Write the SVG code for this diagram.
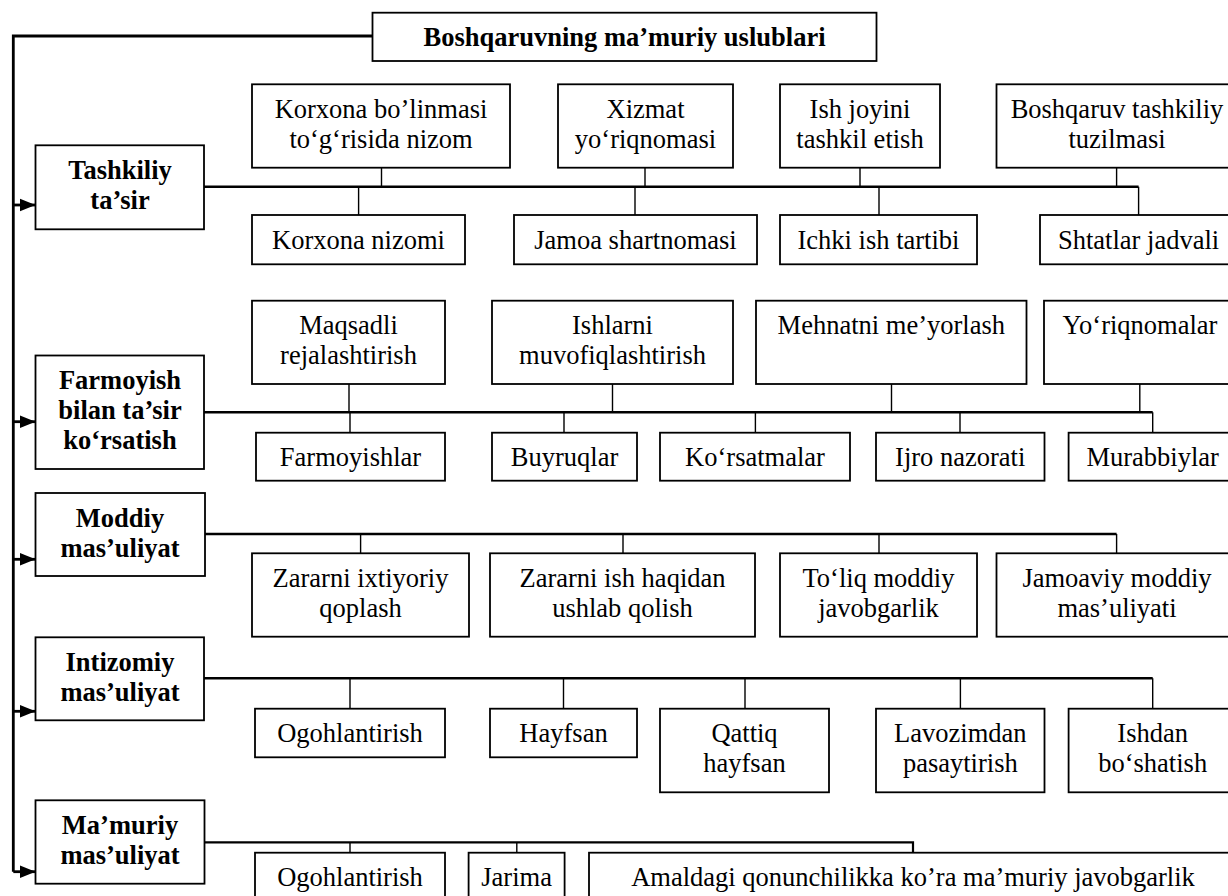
<svg xmlns="http://www.w3.org/2000/svg" width="1228" height="896" viewBox="0 0 1228 896">
  <style>
    .box { fill: #fff; stroke: #000; stroke-width: 1.8; }
    .t { font-family: "Liberation Serif", "Times New Roman", serif; font-size: 26.5px; text-anchor: middle; fill: #000; }
    .b { font-weight: bold; }
    .trunk { fill: none; stroke: #000; stroke-width: 2.8; }
    .bus { fill: none; stroke: #000; stroke-width: 2.6; }
    .stub { fill: none; stroke: #000; stroke-width: 1.4; }
  </style>
  <defs>
    <marker id="head" markerUnits="userSpaceOnUse" markerWidth="17" markerHeight="16" refX="16" refY="8" orient="auto">
      <path d="M0,1.5 L16,8 L0,14.5 Z" fill="#000"/>
    </marker>
  </defs>
  <rect width="1228" height="896" fill="#fff"/>

  <!-- connectors -->
  <g id="connectors">
    <!-- main trunk from the title box down the left side -->
    <path class="trunk" d="M372.5 36 H13.3 V871.7"/>
    <path class="trunk" d="M13.3 205 H35.5" marker-end="url(#head)"/>
    <path class="trunk" d="M13.3 421.7 H35.5" marker-end="url(#head)"/>
    <path class="trunk" d="M13.3 559.3 H35.5" marker-end="url(#head)"/>
    <path class="trunk" d="M13.3 711.3 H35.5" marker-end="url(#head)"/>
    <path class="trunk" d="M13.3 871.7 H35.5" marker-end="url(#head)"/>

    <!-- row 1 -->
    <path class="bus" d="M204 186.7 H1138.6"/>
    <path class="stub" d="M381.5 167.7 V186.7 M645 167.7 V186.7 M860 167.7 V186.7 M1116.6 167.7 V186.7"/>
    <path class="stub" d="M358.6 186.7 V215 M635 186.7 V215 M879 186.7 V215 M1138.6 186.7 V215"/>

    <!-- row 2 -->
    <path class="bus" d="M204 412.3 H1152.7"/>
    <path class="stub" d="M349 384 V412.3 M612.5 384 V412.3 M891.5 384 V412.3 M1139.8 384 V412.3"/>
    <path class="stub" d="M350 412.3 V432.7 M564 412.3 V432.7 M755.4 412.3 V432.7 M960 412.3 V432.7 M1152.7 412.3 V432.7"/>

    <!-- row 3 -->
    <path class="bus" d="M205 534 H1116.6"/>
    <path class="stub" d="M360.6 534 V553.3 M623 534 V553.3 M879 534 V553.3 M1116.6 534 V553.3"/>

    <!-- row 4 -->
    <path class="bus" d="M204 678.3 H1152.7"/>
    <path class="stub" d="M350 678.3 V708.7 M563.5 678.3 V708.7 M745 678.3 V708.7 M960.4 678.3 V708.7 M1152.7 678.3 V708.7"/>

    <!-- row 5 -->
    <path class="bus" style="stroke-width:2.2" d="M204.5 842.3 H913 V852.7"/>
    <path class="stub" d="M350 842.3 V852.7 M516.8 842.3 V852.7"/>
  </g>

  <!-- title -->
  <g id="title">
    <rect class="box" x="372.5" y="12.7" width="504" height="48.3"/>
    <text class="t b" x="624.5" y="46">Boshqaruvning ma’muriy uslublari</text>
  </g>

  <!-- left column categories -->
  <g id="tashkiliy">
    <rect class="box" x="35.5" y="145.3" width="168.5" height="84"/>
    <text class="t b" x="120" y="179"><tspan x="120">Tashkiliy</tspan><tspan x="120" dy="30">ta’sir</tspan></text>
  </g>
  <g id="farmoyish">
    <rect class="box" x="35.5" y="355.5" width="168.5" height="113.5"/>
    <text class="t b" x="120" y="389"><tspan x="120">Farmoyish</tspan><tspan x="120" dy="30">bilan ta’sir</tspan><tspan x="120" dy="30">ko‘rsatish</tspan></text>
  </g>
  <g id="moddiy">
    <rect class="box" x="35.5" y="493" width="169.5" height="83"/>
    <text class="t b" x="120" y="526.5"><tspan x="120">Moddiy</tspan><tspan x="120" dy="30">mas’uliyat</tspan></text>
  </g>
  <g id="intizomiy">
    <rect class="box" x="35.5" y="637.3" width="168.5" height="83"/>
    <text class="t b" x="120" y="670.8"><tspan x="120">Intizomiy</tspan><tspan x="120" dy="30">mas’uliyat</tspan></text>
  </g>
  <g id="mamuriy">
    <rect class="box" x="35.5" y="800.3" width="169" height="83.4"/>
    <text class="t b" x="120" y="833.7"><tspan x="120">Ma’muriy</tspan><tspan x="120" dy="30">mas’uliyat</tspan></text>
  </g>

  <!-- row 1: upper -->
  <g id="korxona-bolinmasi">
    <rect class="box" x="252" y="84.3" width="258" height="83.4"/>
    <text class="t" x="381" y="117.8"><tspan x="381">Korxona bo’linmasi</tspan><tspan x="381" dy="30">to‘g‘risida nizom</tspan></text>
  </g>
  <g id="xizmat">
    <rect class="box" x="558" y="84.3" width="175" height="83.4"/>
    <text class="t" x="645.5" y="117.8"><tspan x="645.5">Xizmat</tspan><tspan x="645.5" dy="30">yo‘riqnomasi</tspan></text>
  </g>
  <g id="ish-joyini">
    <rect class="box" x="780" y="84.3" width="160" height="83.4"/>
    <text class="t" x="860" y="117.8"><tspan x="860">Ish joyini</tspan><tspan x="860" dy="30">tashkil etish</tspan></text>
  </g>
  <g id="boshqaruv-tuzilmasi">
    <rect class="box" x="996.5" y="84.3" width="241" height="83.4"/>
    <text class="t" x="1117" y="117.8"><tspan x="1117">Boshqaruv tashkiliy</tspan><tspan x="1117" dy="30">tuzilmasi</tspan></text>
  </g>

  <!-- row 1: lower -->
  <g id="korxona-nizomi">
    <rect class="box" x="252" y="215" width="213" height="49.3"/>
    <text class="t" x="358.5" y="248.5">Korxona nizomi</text>
  </g>
  <g id="jamoa-shartnomasi">
    <rect class="box" x="514" y="215" width="243" height="49.3"/>
    <text class="t" x="635.5" y="248.5">Jamoa shartnomasi</text>
  </g>
  <g id="ichki-tartib">
    <rect class="box" x="780" y="215" width="197" height="49.3"/>
    <text class="t" x="878.5" y="248.5">Ichki ish tartibi</text>
  </g>
  <g id="shtatlar">
    <rect class="box" x="1040" y="215" width="197.5" height="49.3"/>
    <text class="t" x="1138.6" y="248.5">Shtatlar jadvali</text>
  </g>

  <!-- row 2: upper -->
  <g id="maqsadli">
    <rect class="box" x="252" y="300.7" width="193" height="83.3"/>
    <text class="t" x="348.5" y="334.2"><tspan x="348.5">Maqsadli</tspan><tspan x="348.5" dy="30">rejalashtirish</tspan></text>
  </g>
  <g id="ishlarni">
    <rect class="box" x="492" y="300.7" width="241" height="83.3"/>
    <text class="t" x="612.5" y="334.2"><tspan x="612.5">Ishlarni</tspan><tspan x="612.5" dy="30">muvofiqlashtirish</tspan></text>
  </g>
  <g id="mehnatni">
    <rect class="box" x="756" y="300.7" width="270.5" height="83.3"/>
    <text class="t" x="891.3" y="334.2">Mehnatni me’yorlash</text>
  </g>
  <g id="yoriqnomalar">
    <rect class="box" x="1044" y="300.7" width="192" height="83.3"/>
    <text class="t" x="1140" y="334.2">Yo‘riqnomalar</text>
  </g>

  <!-- row 2: lower -->
  <g id="farmoyishlar">
    <rect class="box" x="256" y="432.7" width="189" height="48"/>
    <text class="t" x="350.5" y="466.2">Farmoyishlar</text>
  </g>
  <g id="buyruqlar">
    <rect class="box" x="492" y="432.7" width="145" height="48"/>
    <text class="t" x="564.5" y="466.2">Buyruqlar</text>
  </g>
  <g id="korsatmalar">
    <rect class="box" x="660" y="432.7" width="190" height="48"/>
    <text class="t" x="755" y="466.2">Ko‘rsatmalar</text>
  </g>
  <g id="ijro-nazorati">
    <rect class="box" x="876" y="432.7" width="168.5" height="48"/>
    <text class="t" x="960.2" y="466.2">Ijro nazorati</text>
  </g>
  <g id="murabbiylar">
    <rect class="box" x="1068.6" y="432.7" width="168.4" height="48"/>
    <text class="t" x="1152.7" y="466.2">Murabbiylar</text>
  </g>

  <!-- row 3 -->
  <g id="ixtiyoriy-qoplash">
    <rect class="box" x="252" y="553.3" width="217" height="83.4"/>
    <text class="t" x="360.5" y="586.8"><tspan x="360.5">Zararni ixtiyoriy</tspan><tspan x="360.5" dy="30">qoplash</tspan></text>
  </g>
  <g id="ish-haqidan">
    <rect class="box" x="490" y="553.3" width="265" height="83.4"/>
    <text class="t" x="622.5" y="586.8"><tspan x="622.5">Zararni ish haqidan</tspan><tspan x="622.5" dy="30">ushlab qolish</tspan></text>
  </g>
  <g id="toliq-moddiy">
    <rect class="box" x="780" y="553.3" width="197" height="83.4"/>
    <text class="t" x="878.5" y="586.8"><tspan x="878.5">To‘liq moddiy</tspan><tspan x="878.5" dy="30">javobgarlik</tspan></text>
  </g>
  <g id="jamoaviy-moddiy">
    <rect class="box" x="996.5" y="553.3" width="241" height="83.4"/>
    <text class="t" x="1117" y="586.8"><tspan x="1117">Jamoaviy moddiy</tspan><tspan x="1117" dy="30">mas’uliyati</tspan></text>
  </g>

  <!-- row 4 -->
  <g id="ogohlantirish-1">
    <rect class="box" x="255" y="708.7" width="190" height="48.6"/>
    <text class="t" x="350" y="742.2">Ogohlantirish</text>
  </g>
  <g id="hayfsan">
    <rect class="box" x="490" y="708.7" width="147" height="48.6"/>
    <text class="t" x="563.5" y="742.2">Hayfsan</text>
  </g>
  <g id="qattiq-hayfsan">
    <rect class="box" x="660" y="708.7" width="169" height="83.6"/>
    <text class="t" x="744.5" y="742.2"><tspan x="744.5">Qattiq</tspan><tspan x="744.5" dy="30">hayfsan</tspan></text>
  </g>
  <g id="lavozimdan">
    <rect class="box" x="876" y="708.7" width="168.5" height="83.6"/>
    <text class="t" x="960.3" y="742.2"><tspan x="960.3">Lavozimdan</tspan><tspan x="960.3" dy="30">pasaytirish</tspan></text>
  </g>
  <g id="ishdan">
    <rect class="box" x="1068.6" y="708.7" width="168.4" height="83.6"/>
    <text class="t" x="1152.7" y="742.2"><tspan x="1152.7">Ishdan</tspan><tspan x="1152.7" dy="30">bo‘shatish</tspan></text>
  </g>

  <!-- row 5 -->
  <g id="ogohlantirish-2">
    <rect class="box" x="255" y="852.7" width="190" height="55"/>
    <text class="t" x="350" y="886.2">Ogohlantirish</text>
  </g>
  <g id="jarima">
    <rect class="box" x="468.6" y="852.7" width="96" height="55"/>
    <text class="t" x="516.6" y="886.2">Jarima</text>
  </g>
  <g id="amaldagi">
    <rect class="box" x="589" y="852.7" width="648" height="55"/>
    <text class="t" x="913" y="886.2">Amaldagi qonunchilikka ko’ra ma’muriy javobgarlik</text>
  </g>
</svg>
